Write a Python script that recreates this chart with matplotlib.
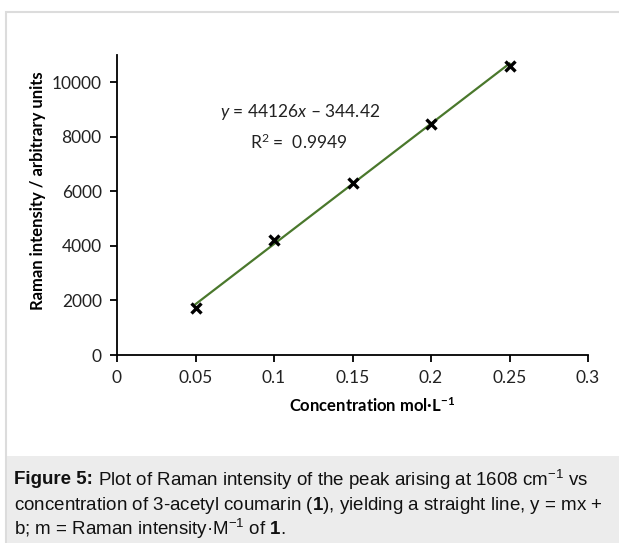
import matplotlib.pyplot as plt
from matplotlib.patches import Rectangle

# data
conc = [0.05, 0.10, 0.15, 0.20, 0.25]
intensity = [1710, 4200, 6310, 8470, 10590]
slope = 44126
intercept = -344.42
x_ticks = [0, 0.05, 0.1, 0.15, 0.2, 0.25, 0.3]
x_tick_labels = ['0', '0.05', '0.1', '0.15', '0.2', '0.25', '0.3']
y_ticks = [0, 2000, 4000, 6000, 8000, 10000]

chart_font = 'Lato'
cap_font = 'Liberation Sans'

plt.rcParams['mathtext.fontset'] = 'custom'
plt.rcParams['mathtext.it'] = chart_font + ':italic'
plt.rcParams['mathtext.rm'] = chart_font
plt.rcParams['mathtext.bf'] = cap_font + ':bold'

fig = plt.figure(figsize=(6.19, 5.43), dpi=100)
W, H = 619, 543

# panel frame and caption background
fig.patches.append(Rectangle((6 / W, -0.01), 1, 1 - 12 / H + 0.01, transform=fig.transFigure,
                             facecolor='white', edgecolor='#dcdcdc', lw=1.5, zorder=-2))
fig.patches.append(Rectangle((7 / W, 0), 1, (H - 456) / H, transform=fig.transFigure,
                             facecolor='#ececec', edgecolor='none', zorder=-1))

ax = fig.add_axes([117 / W, (H - 355) / H, (588 - 117) / W, (355 - 55) / H])
ax.set_facecolor('none')

fit_y = [slope * c + intercept for c in conc]
ax.plot([conc[0], conc[-1]], [fit_y[0], fit_y[-1]], color='#4a782c', lw=1.6, zorder=2)
ax.plot(conc, intensity, linestyle='none', marker='x', color='black',
        markersize=7.5, markeredgewidth=2.4, zorder=3)

ax.set_xlim(0, 0.3)
ax.set_ylim(0, 11000)
ax.set_xticks(x_ticks)
ax.set_xticklabels(x_tick_labels)
ax.set_yticks(y_ticks)

for s in ['top', 'right']:
    ax.spines[s].set_visible(False)
for s in ['left', 'bottom']:
    ax.spines[s].set_linewidth(1.3)
ax.tick_params(direction='out', length=5, width=1.3, labelsize=12.5, pad=6)
for lab in ax.get_xticklabels() + ax.get_yticklabels():
    lab.set_fontfamily(chart_font)
    lab.set_color('#222222')

ax.set_xlabel(r'Concentration mol·L$^{\mathregular{-1}}$', fontfamily=chart_font,
              fontweight='bold', fontsize=12, va='center')
ax.xaxis.set_label_coords((372 - 117) / 471, -(406 - 355) / 300)
ax.set_ylabel('Raman intensity / arbitrary units', fontfamily=chart_font,
              fontweight='bold', fontsize=12, va='center')
ax.yaxis.set_label_coords((38 - 117) / 471, (355 - 191) / 300)

ax.text(0.0656, 8900, '$y$ = 44126$x$ \u2013 344.42', fontfamily=chart_font,
        fontsize=12.5, color='#222222', va='center')
ax.text(0.0847, 7810, r'R$^{\mathregular{2}}$ =  0.9949', fontfamily=chart_font,
        fontsize=12.5, color='#222222', va='center')

# caption
cs = 13.5
renderer = fig.canvas.get_renderer()
head = fig.text(14 / W, 1 - 480 / H, 'Figure 5:', fontfamily=cap_font, fontweight='bold',
                fontsize=cs, va='center', color='#111111')
hx = head.get_window_extent(renderer).x1 / W
fig.text(hx, 1 - 480 / H, r' Plot of Raman intensity of the peak arising at 1608 cm$^{\mathregular{-1}}$ vs',
         fontfamily=cap_font, fontsize=cs, va='center', color='#111111')
fig.text(14 / W, 1 - 505 / H, r'concentration of 3-acetyl coumarin ($\mathbf{1}$), yielding a straight line, y = mx +',
         fontfamily=cap_font, fontsize=cs, va='center', color='#111111')
fig.text(14 / W, 1 - 529 / H, r'b; m = Raman intensity·M$^{\mathregular{-1}}$ of $\mathbf{1}$.',
         fontfamily=cap_font, fontsize=cs, va='center', color='#111111')

fig.savefig('out.png', dpi=100)
